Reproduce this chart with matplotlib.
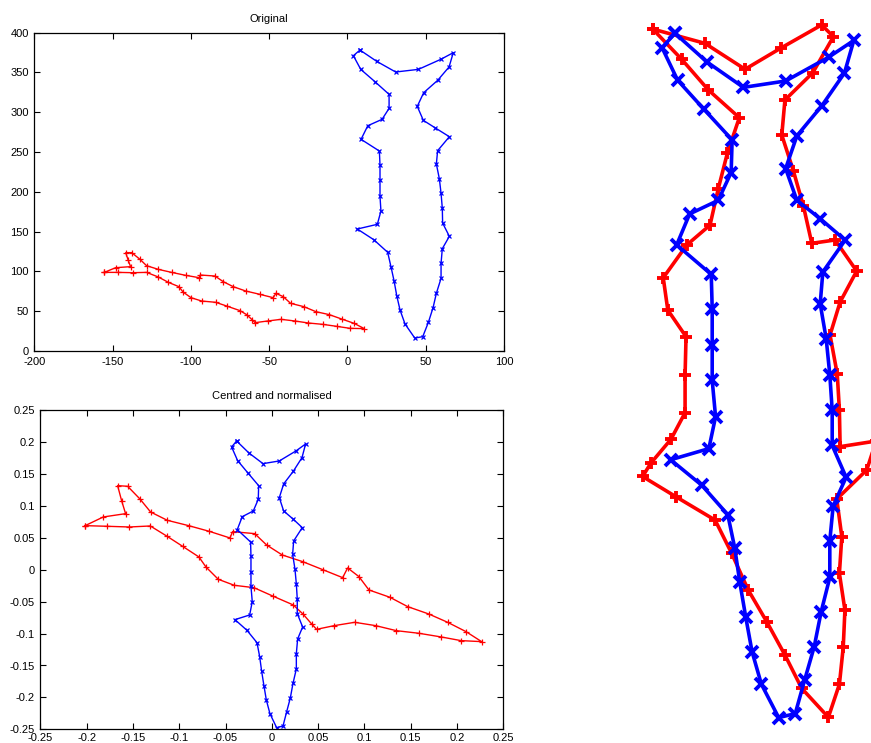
import matplotlib
matplotlib.use("Agg")
import matplotlib.pyplot as plt
import numpy as np

plt.rcParams["font.family"] = ["Liberation Sans", "DejaVu Sans"]
plt.rcParams["font.size"] = 8
plt.rcParams["axes.unicode_minus"] = False

# ---------------- data ----------------
# Original shapes (top-left panel)
orig_blue_x = [8.0, 18.7, 30.8, 45.3, 59.6, 67.6, 64.9, 57.6, 48.7, 44.6, 48.5, 55.9, 65.1, 57.6,
               56.8, 58.7, 59.8, 60.6, 60.8, 65.1, 60.6, 59.8, 59.8, 56.8, 54.7, 51.7, 48.1, 43.0,
               36.8, 33.6, 31.5, 29.8, 27.8, 25.7, 16.8, 6.3, 19.1, 21.4, 20.8, 20.8, 20.8, 20.4,
               8.7, 13.0, 22.1, 26.6, 26.6, 17.6, 8.5, 3.8]
orig_blue_y = [378.2, 364.0, 350.6, 353.9, 366.5, 374.9, 356.9, 340.1, 324.6, 307.4, 289.8, 280.6,
               269.3, 251.7, 235.0, 216.5, 198.1, 179.3, 160.8, 144.1, 128.6, 110.2, 91.3, 72.5,
               54.5, 36.0, 18.0, 16.3, 33.9, 51.5, 69.5, 88.0, 106.0, 124.0, 139.9, 153.3, 159.2,
               175.9, 194.3, 214.5, 233.7, 251.3, 266.0, 283.1, 291.1, 304.9, 322.5, 338.4, 353.9,
               371.1]
orig_red_x = [-155.3, -148.0, -138.5, -140.0, -141.6, -137.8, -132.5, -128.3, -120.8, -112.3,
              -103.4, -94.6, -94.0, -84.6, -79.3, -72.9, -65.0, -55.9, -47.4, -45.7, -41.0, -36.3,
              -27.8, -20.1, -11.6, -3.7, 4.2, 10.8, 1.6, -6.9, -15.8, -25.0, -33.5, -42.4, -51.0,
              -59.0, -60.7, -64.4, -68.6, -77.1, -84.2, -93.1, -99.9, -105.0, -107.6, -114.4,
              -120.8, -128.3, -137.2, -146.4]
orig_red_y = [98.8, 104.7, 106.0, 113.9, 123.6, 123.6, 115.2, 107.2, 102.6, 98.8, 95.1, 92.1, 95.5,
              94.2, 87.1, 80.8, 75.4, 71.2, 67.0, 72.5, 68.3, 59.9, 55.7, 49.4, 45.7, 40.2, 34.8,
              28.1, 28.5, 31.0, 33.5, 35.2, 37.7, 39.8, 37.7, 35.6, 39.0, 45.7, 50.7, 56.5, 61.2,
              62.8, 67.0, 74.1, 80.8, 86.3, 93.0, 98.8, 98.4, 98.8]

# Centred and normalised shapes (bottom-left panel)
norm_blue_x = [-0.0380, -0.0247, -0.0095, 0.0081, 0.0261, 0.0365, 0.0326, 0.0232, 0.0128, 0.0081,
               0.0128, 0.0225, 0.0329, 0.0236, 0.0225, 0.0250, 0.0265, 0.0275, 0.0275, 0.0333,
               0.0279, 0.0265, 0.0265, 0.0229, 0.0200, 0.0160, 0.0121, 0.0052, -0.0020, -0.0059,
               -0.0085, -0.0110, -0.0131, -0.0160, -0.0268, -0.0398, -0.0239, -0.0211, -0.0225,
               -0.0225, -0.0225, -0.0229, -0.0373, -0.0319, -0.0200, -0.0146, -0.0142, -0.0261,
               -0.0369, -0.0434]
norm_blue_y = [0.2019, 0.1831, 0.1664, 0.1706, 0.1863, 0.1972, 0.1758, 0.1544, 0.1346, 0.1131,
               0.0922, 0.0802, 0.0661, 0.0452, 0.0243, 0.0013, -0.0222, -0.0457, -0.0687, -0.0896,
               -0.1084, -0.1314, -0.1554, -0.1779, -0.2009, -0.2228, -0.2448, -0.2474, -0.2255,
               -0.2041, -0.1816, -0.1586, -0.1361, -0.1142, -0.0949, -0.0781, -0.0708, -0.0499,
               -0.0259, -0.0029, 0.0212, 0.0436, 0.0630, 0.0833, 0.0922, 0.1105, 0.1319, 0.1523,
               0.1711, 0.1925]
norm_red_x = [-0.2016, -0.1820, -0.1579, -0.1622, -0.1665, -0.1557, -0.1424, -0.1309, -0.1129,
              -0.0898, -0.0675, -0.0452, -0.0423, -0.0185, -0.0056, 0.0113, 0.0333, 0.0549, 0.0765,
              0.0819, 0.0941, 0.1049, 0.1276, 0.1467, 0.1694, 0.1899, 0.2097, 0.2266, 0.2043,
              0.1831, 0.1589, 0.1345, 0.1121, 0.0895, 0.0675, 0.0484, 0.0430, 0.0340, 0.0232,
              0.0016, -0.0193, -0.0405, -0.0578, -0.0711, -0.0787, -0.0963, -0.1136, -0.1312,
              -0.1539, -0.1777]
norm_red_y = [0.0692, 0.0828, 0.0880, 0.1084, 0.1319, 0.1309, 0.1110, 0.0906, 0.0776, 0.0692,
              0.0603, 0.0499, 0.0598, 0.0567, 0.0389, 0.0232, 0.0128, 0.0003, -0.0123, 0.0029,
              -0.0107, -0.0316, -0.0431, -0.0577, -0.0692, -0.0823, -0.0969, -0.1126, -0.1110,
              -0.1053, -0.0995, -0.0954, -0.0875, -0.0823, -0.0875, -0.0933, -0.0849, -0.0698,
              -0.0551, -0.0415, -0.0280, -0.0243, -0.0149, 0.0044, 0.0201, 0.0368, 0.0530, 0.0687,
              0.0671, 0.0682]

# Aligned red shape (right panel; blue reference = normalised blue)
align_red_x = [-0.0473, -0.0255, -0.0088, 0.0060, 0.0231, 0.0280, 0.0194, 0.0078, 0.0065, 0.0113,
               0.0155, 0.0190, 0.0287, 0.0377, 0.0308, 0.0266, 0.0296, 0.0305, 0.0308, 0.0458,
               0.0419, 0.0294, 0.0315, 0.0305, 0.0328, 0.0321, 0.0305, 0.0259, 0.0148, 0.0078,
               0.0002, -0.0075, -0.0144, -0.0213, -0.0376, -0.0515, -0.0481, -0.0397, -0.0338,
               -0.0338, -0.0334, -0.0410, -0.0429, -0.0331, -0.0234, -0.0200, -0.0162, -0.0112,
               -0.0241, -0.0352]
align_red_y = [0.2047, 0.1953, 0.1783, 0.1921, 0.2074, 0.1997, 0.1760, 0.1581, 0.1351, 0.1117,
               0.0885, 0.0640, 0.0662, 0.0458, 0.0255, 0.0038, -0.0218, -0.0454, -0.0695, -0.0658,
               -0.0848, -0.1039, -0.1286, -0.1527, -0.1768, -0.2012, -0.2255, -0.2472, -0.2282,
               -0.2063, -0.1844, -0.1636, -0.1395, -0.1177, -0.1024, -0.0891, -0.0804, -0.0647,
               -0.0472, -0.0225, 0.0027, 0.0202, 0.0414, 0.0629, 0.0760, 0.0997, 0.1231, 0.1465,
               0.1647, 0.1848]

top_xticks = [-200, -150, -100, -50, 0, 50, 100]
top_yticks = [0, 50, 100, 150, 200, 250, 300, 350, 400]
bot_ticks = [-0.25, -0.2, -0.15, -0.1, -0.05, 0, 0.05, 0.1, 0.15, 0.2, 0.25]
bot_ticklabels = ["-0.25", "-0.2", "-0.15", "-0.1", "-0.05", "0", "0.05", "0.1", "0.15", "0.2", "0.25"]

# ---------------- figure ----------------
W, H = 871, 743
fig = plt.figure(figsize=(W / 100, H / 100), dpi=100)


def ax_px(l, t, r, b):
    return fig.add_axes([l / W, 1 - b / H, (r - l) / W, (b - t) / H])


def closed(xs, ys):
    return list(xs) + [xs[0]], list(ys) + [ys[0]]


BLUE = "#0000ff"
RED = "#ff0000"


def style_axes(ax, xpad=4):
    ax.tick_params(direction="in", length=4, width=0.8, top=True, right=True,
                   labelsize=8, colors="black", pad=4)
    ax.tick_params(axis="x", pad=xpad)
    for s in ax.spines.values():
        s.set_linewidth(0.9)


# top-left: Original
ax1 = ax_px(34.3, 32.7, 504, 351)
x, y = closed(orig_red_x, orig_red_y)
ax1.plot(x, y, color=RED, lw=1.0, marker="+", ms=4, mew=0.9)
x, y = closed(orig_blue_x, orig_blue_y)
ax1.plot(x, y, color=BLUE, lw=1.0, marker="x", ms=3.5, mew=0.9)
ax1.set_xlim(-200, 100)
ax1.set_ylim(0, 400)
ax1.set_xticks(top_xticks)
ax1.set_yticks(top_yticks)
style_axes(ax1, xpad=4.5)
ax1.set_title("Original", fontsize=8, pad=8)

# bottom-left: Centred and normalised
ax2 = ax_px(40.3, 410.3, 503.3, 729.3)
x, y = closed(norm_red_x, norm_red_y)
ax2.plot(x, y, color=RED, lw=1.0, marker="+", ms=4, mew=0.9)
x, y = closed(norm_blue_x, norm_blue_y)
ax2.plot(x, y, color=BLUE, lw=1.0, marker="x", ms=3.5, mew=0.9)
ax2.set_xlim(-0.25, 0.25)
ax2.set_ylim(-0.25, 0.25)
ax2.set_xticks(bot_ticks)
ax2.set_xticklabels(bot_ticklabels)
ax2.set_yticks(bot_ticks)
ax2.set_yticklabels(bot_ticklabels)
style_axes(ax2, xpad=3)
ax2.set_title("Centred and normalised", fontsize=8, pad=8)

# right: aligned shapes
ax3 = ax_px(620, 10, 871, 733)
x, y = closed(align_red_x, align_red_y)
ax3.plot(x, y, color=RED, lw=2.6, marker="+", ms=8, mew=2.8)
x, y = closed(norm_blue_x, norm_blue_y)
ax3.plot(x, y, color=BLUE, lw=2.6, marker="x", ms=8, mew=2.8)
ax3.set_xlim((620 - 766.2) / 2400, (871 - 766.2) / 2400)
ax3.set_ylim((340.8 - 733) / 1523, (340.8 - 10) / 1523)
ax3.axis("off")

fig.savefig("out.png", dpi=100)
